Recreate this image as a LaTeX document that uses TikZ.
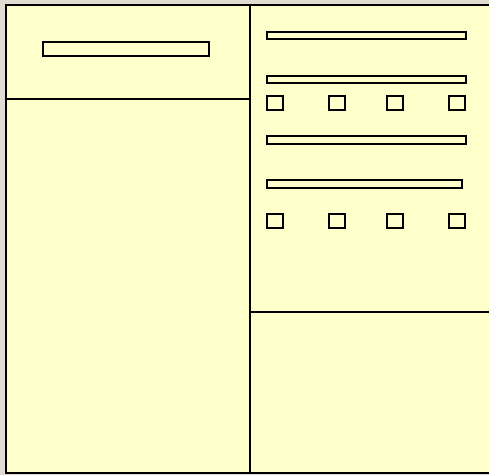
\documentclass[tikz,border=0pt]{standalone}
\begin{document}
\begin{tikzpicture}[x=1pt,y=-1pt,
  frame/.style={draw=black,line width=2pt},
  divider/.style={draw=black,line width=1.5pt},
  bar/.style={draw=black,fill=yellowbg,line width=1.4pt},
  chk/.style={draw=black,fill=yellowbg,line width=1.4pt}]
\definecolor{yellowbg}{HTML}{FFFFCC}
\definecolor{backdrop}{HTML}{E2DBD1}
\useasboundingbox (0,0) rectangle (489,475);
\fill[backdrop] (0,0) rectangle (489,475);
% panel
\fill[yellowbg] (6,5) rectangle (492,473);
\draw[frame] (492,5) -- (6,5) -- (6,473) -- (492,473);
\draw[divider] (250,5) -- (250,473);
\draw[divider] (6,99) -- (250,99);
\draw[divider] (250,312) -- (492,312);
% left title bar
\draw[bar] (43,42) rectangle (209,56);
% right bars
\draw[bar] (267,32) rectangle (466,39);
\draw[bar] (267,76) rectangle (466,83);
\draw[bar] (267,136) rectangle (466,144);
\draw[bar] (267,180) rectangle (462,188);
% check boxes
\foreach \y in {96,214}{
  \foreach \x in {267,329,387,449}{
    \draw[chk] (\x,\y) rectangle ++(16,14);
  }
}
\end{tikzpicture}
\end{document}
